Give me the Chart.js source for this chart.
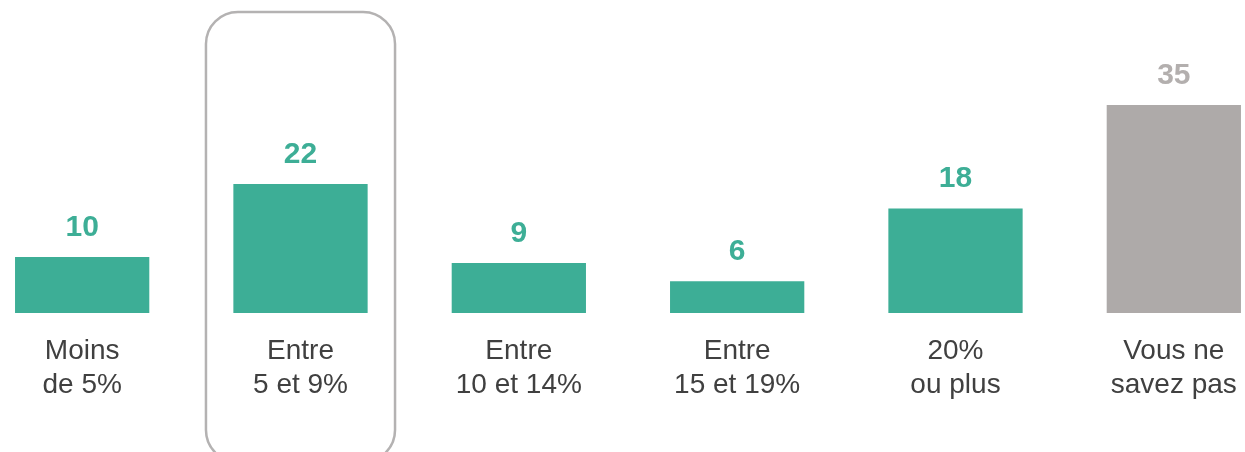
<!DOCTYPE html>
<html lang="fr">
<head>
<meta charset="UTF-8">
<title>Répartition</title>
<script src="https://cdn.jsdelivr.net/npm/chart.js"></script>
<style>
  html, body { margin: 0; padding: 0; background: #fff; overflow: hidden; }
  #wrap { position: absolute; left: -27px; top: 0; width: 1310px; height: 452px; }
</style>
</head>
<body>
<div id="wrap"><canvas id="myChart"></canvas></div>
<script>
const categories = [
  ['Moins', 'de 5%'],
  ['Entre', '5 et 9%'],
  ['Entre', '10 et 14%'],
  ['Entre', '15 et 19%'],
  ['20%', 'ou plus'],
  ['Vous ne', 'savez pas']
];
const values = [10, 22, 9, 6, 18, 35];
const highlighted = 1; // "Entre 5 et 9%" is framed

const green = '#3dae96';
const grey = '#aeaaa9';
const barColors = values.map((v, i) => i === values.length - 1 ? grey : green);
const labelColors = values.map((v, i) => i === values.length - 1 ? '#b3afae' : green);

// value above each bar
const valueLabels = {
  id: 'valueLabels',
  afterDatasetsDraw(chart) {
    const ctx = chart.ctx;
    const meta = chart.getDatasetMeta(0);
    ctx.save();
    ctx.font = 'bold 30px "Liberation Sans", Arial, sans-serif';
    ctx.textAlign = 'center';
    ctx.textBaseline = 'alphabetic';
    meta.data.forEach((bar, i) => {
      ctx.fillStyle = labelColors[i];
      ctx.fillText(values[i], bar.x, bar.y - 21);
    });
    ctx.restore();
  }
};

// rounded frame around the highlighted category
const frame = {
  id: 'frame',
  afterDraw(chart) {
    const x = chart.scales.x;
    const cw = x.width / categories.length;
    const cx = x.getPixelForValue(highlighted);
    const w = cw * 0.866;
    const ctx = chart.ctx;
    ctx.save();
    ctx.strokeStyle = '#b4b2b2';
    ctx.lineWidth = 2.5;
    ctx.beginPath();
    ctx.roundRect(cx - w / 2, 12, w, 450, 32);
    ctx.stroke();
    ctx.restore();
  }
};

new Chart(document.getElementById('myChart'), {
  type: 'bar',
  data: {
    labels: categories,
    datasets: [{
      data: values,
      backgroundColor: barColors,
      borderWidth: 0,
      barPercentage: 0.615,
      categoryPercentage: 1
    }]
  },
  options: {
    responsive: true,
    maintainAspectRatio: false,
    animation: false,
    layout: { padding: 0 },
    plugins: { legend: { display: false }, tooltip: { enabled: false } },
    scales: {
      x: {
        grid: { display: false },
        border: { display: false },
        ticks: {
          color: '#404040',
          padding: 13,
          maxRotation: 0,
          autoSkip: false,
          font: { family: '"Liberation Sans", Arial, sans-serif', size: 28, lineHeight: 1.23 }
        },
        afterFit(scale) { scale.height = 139; }
      },
      y: {
        display: false,
        min: 0.79,
        max: 52.3
      }
    }
  },
  plugins: [valueLabels, frame]
});
</script>
</body>
</html>
